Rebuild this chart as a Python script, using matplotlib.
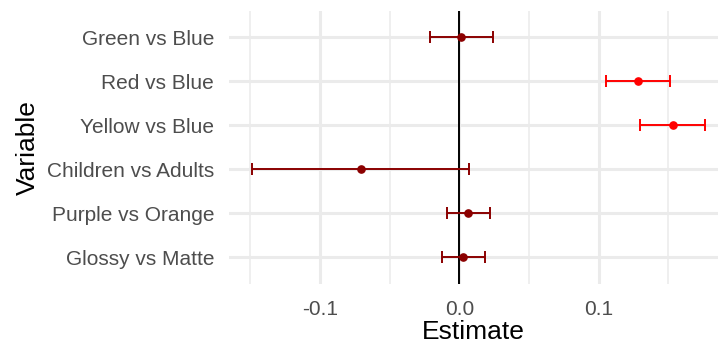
import matplotlib
matplotlib.use("Agg")
import matplotlib.pyplot as plt

variables = ["Green vs Blue", "Red vs Blue", "Yellow vs Blue",
             "Children vs Adults", "Purple vs Orange", "Glossy vs Matte"]
estimates = [0.0014, 0.1285, 0.1532, -0.0708, 0.0065, 0.0029]
lower = [-0.0213, 0.1053, 0.1297, -0.1488, -0.0086, -0.0126]
upper = [0.0240, 0.1515, 0.1766, 0.0070, 0.0218, 0.0184]
significant = [False, True, True, False, False, False]
xticks = [-0.1, 0.0, 0.1]
xtick_labels = ["-0.1", "0.0", "0.1"]

plt.rcParams['font.family'] = ['Liberation Sans', 'DejaVu Sans']

fig = plt.figure(figsize=(7.18, 3.47), dpi=100)
W, H = 718, 347
left, right, top, bottom = 229.3, 718, 10.9, 283.7
ax = fig.add_axes([left / W, 1 - bottom / H, (right - left) / W, (bottom - top) / H])

n = len(variables)
ypos = [n - i for i in range(n)]

ax.set_xlim(-0.1651, 0.1857)
ax.set_ylim(0.4, n + 0.6)

# grid
for x in [-0.15, -0.05, 0.05, 0.15]:
    ax.axvline(x, color="#EBEBEB", lw=1.1, zorder=0)
for x in xticks:
    ax.axvline(x, color="#EBEBEB", lw=2.2, zorder=0)
for y in ypos:
    ax.axhline(y, color="#EBEBEB", lw=2.2, zorder=0)

ax.axvline(0, color="black", lw=1.4, zorder=1)

for y, e, lo, hi, sig in zip(ypos, estimates, lower, upper, significant):
    c = "#FF0000" if sig else "#8B0000"
    ax.errorbar([e], [y], xerr=[[e - lo], [hi - e]], fmt="o", color=c,
                ms=5.2, elinewidth=1.4, capsize=4, capthick=1.4, zorder=3)

ax.set_xticks(xticks)
ax.set_xticklabels(xtick_labels)
ax.set_yticks(ypos)
ax.set_yticklabels(variables)
ax.tick_params(axis="both", length=0, labelsize=15, labelcolor="#4D4D4D")
ax.tick_params(axis="y", pad=11)
ax.tick_params(axis="x", pad=11.5)

for s in ax.spines.values():
    s.set_visible(False)

ax.set_xlabel("Estimate", fontsize=19, color="black", labelpad=1)
ax.set_ylabel("Variable", fontsize=19, color="black", labelpad=5)

fig.savefig("out.png", dpi=100)
